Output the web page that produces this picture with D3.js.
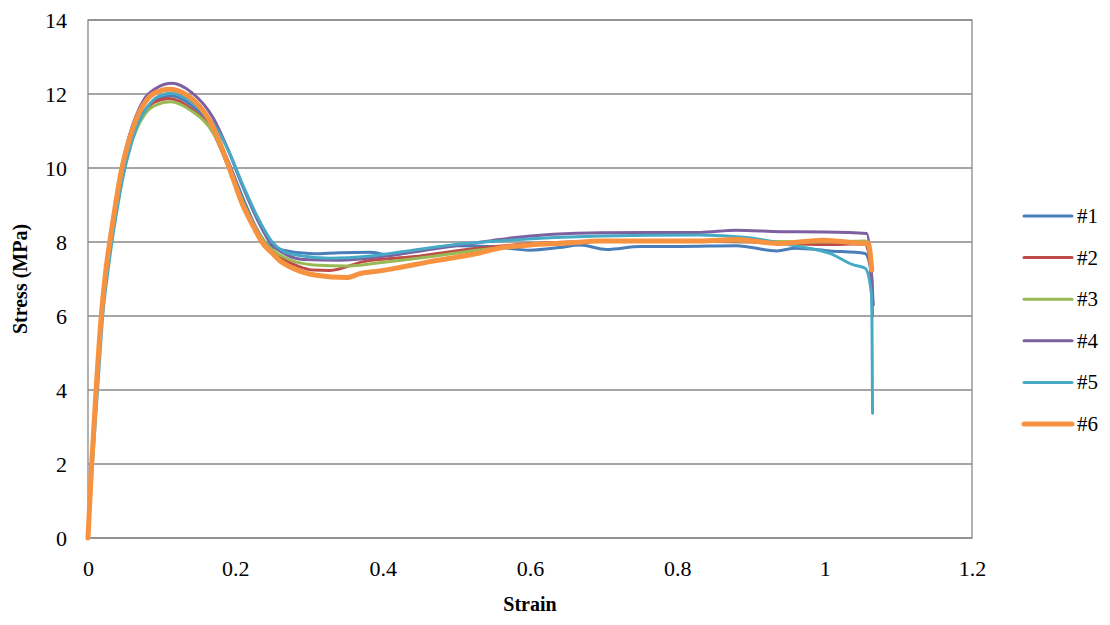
<!DOCTYPE html>
<html>
<head>
<meta charset="utf-8">
<script src="https://cdn.jsdelivr.net/npm/d3@7"></script>
</head>
<body style="margin:0">
<svg id="chart" width="1110" height="625" font-family="'Liberation Serif', 'Times New Roman', serif"></svg>
<script>
// strain / stress curves, [strain, stress (MPa)]
const names = ["#1", "#2", "#3", "#4", "#5", "#6"];
const colorsList = ["#4A7EBB", "#BE4B48", "#98B954", "#7D60A0", "#46AAC5", "#F69240"];

const s1 = [[0,0],[0.005,2],[0.011,4],[0.018,6],[0.025,7.2],[0.032,8.2],[0.039,9.05],[0.046,9.8],[0.056,10.6],[0.066,11.15],[0.077,11.55],[0.092,11.85],[0.112,11.95],[0.14,11.7],[0.17,11.05],[0.19,10.2],[0.21,9.2],[0.228,8.4],[0.243,7.95],[0.265,7.78],[0.306,7.68],[0.342,7.71],[0.383,7.72],[0.41,7.65],[0.45,7.78],[0.5,7.9],[0.55,7.87],[0.6,7.78],[0.64,7.85],[0.668,7.92],[0.704,7.8],[0.75,7.88],[0.804,7.88],[0.88,7.9],[0.935,7.76],[0.96,7.83],[1.007,7.76],[1.055,7.69],[1.062,7.3],[1.065,6.0]];
const s2 = [[0,0],[0.005,2],[0.011,4],[0.018,6],[0.024,7.2],[0.031,8.2],[0.038,9.05],[0.045,9.8],[0.055,10.6],[0.065,11.15],[0.076,11.5],[0.09,11.78],[0.11,11.88],[0.14,11.6],[0.17,10.95],[0.19,10.05],[0.21,9.0],[0.225,8.4],[0.24,7.95],[0.26,7.6],[0.285,7.35],[0.306,7.24],[0.328,7.23],[0.374,7.47],[0.441,7.6],[0.528,7.83],[0.6,7.95],[0.7,8.02],[0.8,8.02],[0.9,8.0],[1.0,7.93],[1.055,7.95],[1.062,7.4],[1.065,6.5]];
const s3 = [[0,0],[0.005,2],[0.011,4],[0.018,6],[0.025,7.2],[0.032,8.2],[0.039,9.0],[0.046,9.7],[0.056,10.5],[0.066,11.05],[0.077,11.45],[0.092,11.7],[0.112,11.79],[0.14,11.55],[0.17,10.95],[0.19,10.1],[0.21,9.1],[0.227,8.4],[0.242,7.95],[0.265,7.6],[0.306,7.38],[0.351,7.35],[0.396,7.44],[0.464,7.6],[0.528,7.78],[0.6,7.92],[0.7,8.02],[0.8,8.04],[0.9,8.02],[1.0,8.0],[1.055,8.03],[1.062,7.5],[1.065,6.8]];
const s4 = [[0,0],[0.005,2],[0.011,4],[0.018,6],[0.024,7.2],[0.031,8.2],[0.038,9.1],[0.045,9.95],[0.055,10.8],[0.065,11.4],[0.076,11.85],[0.092,12.15],[0.114,12.29],[0.14,12.05],[0.17,11.35],[0.19,10.5],[0.21,9.5],[0.23,8.6],[0.245,8.05],[0.27,7.65],[0.292,7.53],[0.342,7.51],[0.396,7.6],[0.464,7.8],[0.528,7.98],[0.559,8.07],[0.695,8.25],[0.831,8.26],[0.88,8.32],[0.94,8.28],[1.0,8.27],[1.057,8.23],[1.064,6.97],[1.066,6.3]];
const s5 = [[0,0],[0.006,2],[0.013,4],[0.02,6],[0.027,7.2],[0.034,8.2],[0.041,9.05],[0.048,9.8],[0.058,10.6],[0.068,11.2],[0.079,11.6],[0.094,11.92],[0.113,12.02],[0.14,11.8],[0.17,11.2],[0.19,10.5],[0.21,9.55],[0.232,8.6],[0.25,8.0],[0.265,7.75],[0.283,7.65],[0.328,7.56],[0.383,7.62],[0.441,7.78],[0.509,7.95],[0.559,8.03],[0.695,8.16],[0.831,8.19],[0.894,8.12],[0.962,7.89],[1.007,7.69],[1.039,7.38],[1.055,7.29],[1.064,6.52],[1.065,3.37]];
const s6 = [[0,0],[0.005,2],[0.011,4],[0.018,6],[0.024,7.2],[0.031,8.2],[0.038,9.1],[0.045,9.9],[0.055,10.7],[0.065,11.3],[0.075,11.7],[0.09,12.02],[0.111,12.13],[0.13,12.02],[0.145,11.8],[0.17,11.1],[0.19,10.1],[0.21,9.0],[0.225,8.4],[0.236,8.0],[0.25,7.7],[0.26,7.5],[0.274,7.33],[0.31,7.1],[0.351,7.04],[0.37,7.15],[0.396,7.22],[0.42,7.3],[0.464,7.47],[0.528,7.69],[0.559,7.84],[0.6,7.92],[0.65,7.97],[0.695,8.03],[0.831,8.03],[0.88,8.07],[0.939,7.96],[0.998,8.05],[1.055,7.96],[1.059,7.97],[1.064,7.24]];
const seriesData = [s1, s2, s3, s4, s5, s6];

const xTicks = [0, 0.2, 0.4, 0.6, 0.8, 1, 1.2];
const yTicks = [0, 2, 4, 6, 8, 10, 12, 14];

const fontFam = "'Liberation Serif', 'Times New Roman', serif";

const width = 1110, height = 625;
const margin = { top: 20, right: 138, bottom: 87, left: 88 };
const plotW = width - margin.left - margin.right;
const plotH = height - margin.top - margin.bottom;

const svg = d3.select("#chart");
const g = svg.append("g").attr("transform", `translate(${margin.left},${margin.top})`);

const x = d3.scaleLinear().domain([0, 1.2]).range([0, plotW]);
const y = d3.scaleLinear().domain([0, 14]).range([plotH, 0]);

// gridlines
g.append("g")
    .selectAll("line")
    .data(yTicks)
    .enter()
    .append("line")
    .attr("x1", 0)
    .attr("x2", plotW)
    .attr("y1", d => y(d))
    .attr("y2", d => y(d))
    .attr("stroke", "#898989")
    .attr("stroke-width", 1.3);

// plot border
g.append("rect")
    .attr("width", plotW)
    .attr("height", plotH)
    .attr("fill", "none")
    .attr("stroke", "#898989")
    .attr("stroke-width", 1.3);

// axes (labels only)
const xAxis = g.append("g")
    .attr("transform", `translate(0,${plotH})`)
    .call(d3.axisBottom(x).tickValues(xTicks).tickSize(0).tickPadding(22).tickFormat(d3.format("")));
xAxis.select(".domain").remove();
xAxis.selectAll("text")
    .attr("font-family", fontFam)
    .attr("font-size", 22)
    .attr("fill", "#000");

const yAxis = g.append("g")
    .call(d3.axisLeft(y).tickValues(yTicks).tickSize(0).tickPadding(21));
yAxis.select(".domain").remove();
yAxis.selectAll("text")
    .attr("font-family", fontFam)
    .attr("font-size", 22)
    .attr("fill", "#000");

// curves
const line = d3.line()
    .x(d => x(d[0]))
    .y(d => y(d[1]))
    .curve(d3.curveMonotoneX);

seriesData.forEach((s, i) => {
    g.append("path")
        .datum(s)
        .attr("fill", "none")
        .attr("stroke", colorsList[i])
        .attr("stroke-width", i === 5 ? 5 : 3)
        .attr("stroke-linejoin", "round")
        .attr("stroke-linecap", "round")
        .attr("d", line);
});

// axis titles
svg.append("text")
    .attr("x", margin.left + plotW / 2)
    .attr("y", 611)
    .attr("text-anchor", "middle")
    .attr("font-family", fontFam)
    .attr("font-size", 20)
    .attr("font-weight", "bold")
    .text("Strain");

svg.append("text")
    .attr("transform", `translate(27,${margin.top + plotH / 2}) rotate(-90)`)
    .attr("text-anchor", "middle")
    .attr("font-family", fontFam)
    .attr("font-size", 20)
    .attr("font-weight", "bold")
    .text("Stress (MPa)");

// legend
const legend = svg.append("g").attr("transform", "translate(1024,216)");
legend.selectAll("line")
    .data(names)
    .enter()
    .append("line")
    .attr("x1", 0)
    .attr("x2", 48)
    .attr("y1", (d, i) => i * 41.6)
    .attr("y2", (d, i) => i * 41.6)
    .attr("stroke", (d, i) => colorsList[i])
    .attr("stroke-width", (d, i) => i === 5 ? 5 : 3)
    .attr("stroke-linecap", "round");

legend.selectAll("text")
    .data(names)
    .enter()
    .append("text")
    .attr("x", 53)
    .attr("y", (d, i) => i * 41.6 + 7)
    .attr("font-family", fontFam)
    .attr("font-size", 21)
    .text(d => d);
</script>
</body>
</html>
